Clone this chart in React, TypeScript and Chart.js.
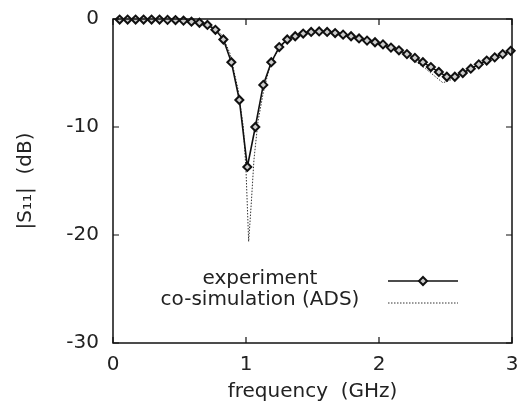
import React, { useEffect, useRef } from "react";
import { Chart, registerables } from "chart.js";

Chart.register(...registerables);

// Experiment (markers every ~0.06 GHz)
const expFreq = [0.05, 0.11, 0.17, 0.23, 0.29, 0.35, 0.41, 0.47, 0.53, 0.59, 0.65, 0.71, 0.77, 0.83, 0.89, 0.95, 1.01, 1.07, 1.13, 1.19, 1.25, 1.31, 1.37, 1.43, 1.49, 1.55, 1.61, 1.67, 1.73, 1.79, 1.85, 1.91, 1.97, 2.03, 2.09, 2.15, 2.21, 2.27, 2.33, 2.39, 2.45, 2.51, 2.57, 2.63, 2.69, 2.75, 2.81, 2.87, 2.93, 2.99];
const expDb = [-0.05, -0.05, -0.05, -0.05, -0.05, -0.05, -0.08, -0.1, -0.15, -0.25, -0.35, -0.55, -1.0, -1.9, -4.0, -7.5, -13.7, -10.0, -6.1, -4.0, -2.6, -1.9, -1.6, -1.35, -1.2, -1.15, -1.2, -1.3, -1.45, -1.6, -1.8, -2.0, -2.15, -2.35, -2.65, -2.9, -3.25, -3.6, -4.0, -4.45, -4.9, -5.35, -5.35, -5.0, -4.6, -4.2, -3.85, -3.55, -3.25, -2.95];

// Co-simulation (ADS)
const simFreq = [0, 0.3, 0.5, 0.6, 0.7, 0.76, 0.82, 0.88, 0.94, 0.98, 1.0, 1.02, 1.04, 1.06, 1.09, 1.13, 1.17, 1.22, 1.28, 1.35, 1.45, 1.55, 1.65, 1.75, 1.85, 1.95, 2.05, 2.15, 2.25, 2.35, 2.42, 2.48, 2.53, 2.6, 2.7, 2.8, 2.9, 3.0];
const simDb = [-0.02, -0.05, -0.12, -0.22, -0.45, -0.8, -1.5, -3.2, -6.5, -10.0, -14.0, -20.6, -17.0, -13.0, -9.5, -6.8, -4.8, -3.3, -2.3, -1.7, -1.35, -1.2, -1.25, -1.45, -1.75, -2.1, -2.5, -3.0, -3.7, -4.6, -5.3, -5.9, -5.7, -5.2, -4.55, -3.9, -3.35, -2.9];

const xTicks = [0, 1, 2, 3];
const yTicks = [-30, -20, -10, 0];
const legendLabels = ["experiment", "co-simulation (ADS)"];
const xTitle = "frequency  (GHz)";
const yTitle = "|S\u2081\u2081|  (dB)";

const FONT = "'DejaVu Sans', sans-serif";
const TEXT = "#222";
const LINE = "#111";

const framePlugin = {
  id: "frameTicks",
  afterDraw(chart: any) {
    const { ctx, chartArea: a, scales } = chart;
    const xs = scales.x;
    const ys = scales.y;
    const L = 6;
    ctx.save();
    ctx.strokeStyle = LINE;
    ctx.lineWidth = 1.5;
    ctx.strokeRect(a.left, a.top, a.right - a.left, a.bottom - a.top);
    ctx.lineWidth = 1.2;
    ctx.beginPath();
    xTicks.forEach((v) => {
      const px = xs.getPixelForValue(v);
      ctx.moveTo(px, a.bottom);
      ctx.lineTo(px, a.bottom - L);
      ctx.moveTo(px, a.top);
      ctx.lineTo(px, a.top + L);
    });
    yTicks.forEach((v) => {
      const py = ys.getPixelForValue(v);
      ctx.moveTo(a.left, py);
      ctx.lineTo(a.left + L, py);
      ctx.moveTo(a.right, py);
      ctx.lineTo(a.right - L, py);
    });
    ctx.stroke();

    // legend (gnuplot style: centred text, then sample)
    const textX = 260;
    const rows = [279, 300];
    const x0 = 388;
    const x1 = 458;
    ctx.font = `20px ${FONT}`;
    ctx.fillStyle = TEXT;
    ctx.textAlign = "center";
    ctx.textBaseline = "middle";
    legendLabels.forEach((t, i) => ctx.fillText(t, textX, rows[i]));
    // experiment sample
    const y1 = rows[0] + 2;
    ctx.strokeStyle = LINE;
    ctx.lineWidth = 1.6;
    ctx.setLineDash([]);
    ctx.beginPath();
    ctx.moveTo(x0, y1);
    ctx.lineTo(x1, y1);
    ctx.stroke();
    const mx = (x0 + x1) / 2;
    const r = 4;
    ctx.beginPath();
    ctx.moveTo(mx, y1 - r);
    ctx.lineTo(mx + r, y1);
    ctx.lineTo(mx, y1 + r);
    ctx.lineTo(mx - r, y1);
    ctx.closePath();
    ctx.fillStyle = "#ccc";
    ctx.fill();
    ctx.lineWidth = 2;
    ctx.stroke();
    // simulation sample
    const y2 = rows[1] + 3;
    ctx.lineWidth = 1;
    ctx.strokeStyle = "#333";
    ctx.setLineDash([1.5, 1.5]);
    ctx.beginPath();
    ctx.moveTo(x0, y2);
    ctx.lineTo(x1, y2);
    ctx.stroke();
    ctx.restore();
  },
};

export default function App() {
  const ref = useRef<HTMLCanvasElement>(null);
  useEffect(() => {
    if (!ref.current) return;
    const chart = new Chart(ref.current, {
      type: "line",
      data: {
        datasets: [
          {
            label: legendLabels[0],
            data: expFreq.map((f, i) => ({ x: f, y: expDb[i] })),
            borderColor: LINE,
            borderWidth: 1.6,
            pointStyle: "rectRot",
            pointRadius: 4,
            pointBorderWidth: 2,
            pointBorderColor: LINE,
            pointBackgroundColor: "#ccc",
            tension: 0,
            clip: false as any,
          },
          {
            label: legendLabels[1],
            data: simFreq.map((f, i) => ({ x: f, y: simDb[i] })),
            borderColor: "#333",
            borderWidth: 1,
            borderDash: [1.5, 1.5],
            pointRadius: 0,
            tension: 0,
            clip: false as any,
          },
        ],
      },
      options: {
        animation: false,
        responsive: false,
        layout: { padding: { left: 0, top: 19, right: 14, bottom: 0 } },
        plugins: { legend: { display: false }, tooltip: { enabled: false } },
        scales: {
          x: {
            type: "linear",
            min: 0,
            max: 3,
            afterFit: (s: any) => {
              s.height = 67;
              s.paddingLeft = 0;
              s.paddingRight = 0;
            },
            afterBuildTicks: (s: any) => {
              s.ticks = xTicks.map((v) => ({ value: v }));
            },
            grid: { display: false, drawTicks: false },
            border: { display: false },
            ticks: {
              padding: 10,
              color: TEXT,
              font: { family: FONT, size: 20 },
              maxRotation: 0,
            },
            title: {
              display: true,
              text: xTitle,
              color: TEXT,
              font: { family: FONT, size: 20 },
              padding: { top: 0, bottom: 6 },
            },
          },
          y: {
            type: "linear",
            min: -30,
            max: 0,
            afterFit: (s: any) => {
              s.width = 113;
              s.paddingTop = 0;
              s.paddingBottom = 0;
            },
            afterBuildTicks: (s: any) => {
              s.ticks = yTicks.map((v) => ({ value: v }));
            },
            grid: { display: false, drawTicks: false },
            border: { display: false },
            ticks: {
              padding: 14,
              color: TEXT,
              font: { family: FONT, size: 20 },
            },
            title: {
              display: true,
              text: yTitle,
              color: TEXT,
              font: { family: FONT, size: 20 },
              padding: { top: 14, bottom: 0 },
            },
          },
        },
      },
      plugins: [framePlugin],
    });
    return () => chart.destroy();
  }, []);
  return (
    <div style={{ position: "absolute", left: 0, top: 0, width: 526, height: 410, background: "#fff" }}>
      <canvas ref={ref} width={526} height={410} style={{ display: "block" }} />
    </div>
  );
}
